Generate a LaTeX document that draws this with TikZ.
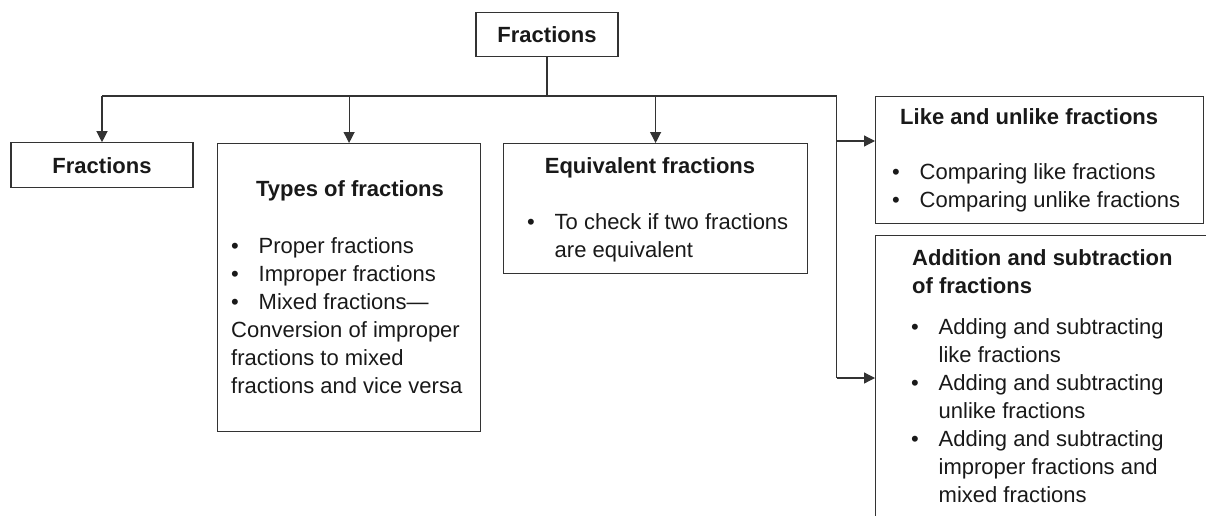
\documentclass[tikz,border=0pt]{standalone}
\usepackage{fontspec}
\setmainfont{Liberation Sans}
\usetikzlibrary{arrows.meta}

\newcommand{\itemDot}{\textbullet\hspace{0.9em}}
\newcommand{\itemHang}{\hphantom{\itemDot}}

\begin{document}
\begin{tikzpicture}[
            x=1pt, y=-1pt,
            font=\fontsize{22}{28}\selectfont,
            boxNode/.style={rectangle, draw=black!80, line width=1.2pt, inner sep=0pt},
            titleNode/.style={font=\fontsize{22}{28}\selectfont\bfseries, text=black!90, inner sep=0pt},
            listNode/.style={align=left, anchor=base west, text=black!90, inner sep=0pt},
            line/.style={draw=black!80, line width=1.2pt},
            arrow/.style={line, -{Triangle[length=11pt, width=11pt]}},
        ]
        \useasboundingbox (0,0) rectangle (1206,516);
        \clip (0,0) rectangle (1206,516);

        \node[boxNode, titleNode, minimum width=142pt, minimum height=44pt] (topFrac) at (547,34.7) {Fractions};
        \node[boxNode, titleNode, minimum width=182pt, minimum height=45pt] (fracBox) at (102,165.3) {Fractions};
        \node[boxNode, anchor=north west, minimum width=263pt, minimum height=288pt] (typesBox) at (217,143) {};
        \node[boxNode, anchor=north west, minimum width=304pt, minimum height=130pt] (equivBox) at (503,143) {};
        \node[boxNode, anchor=north west, minimum width=328pt, minimum height=127pt] (likeBox) at (875,96) {};
        \node[boxNode, anchor=north west, minimum width=400pt, minimum height=320pt] (addBox) at (875,235) {};

        % texts inside the boxes (base = last line)
        \node[titleNode, anchor=base] (typesTitle) at (350,196) {Types of fractions};
        \node[listNode] (typesList) at (231,393) {\itemDot Proper fractions\\ \itemDot Improper fractions\\ \itemDot Mixed fractions—\\ Conversion of improper\\ fractions to mixed\\ fractions and vice versa};
        \node[titleNode, anchor=base] (equivTitle) at (650,173) {Equivalent fractions};
        \node[listNode] (equivList) at (527,257) {\itemDot To check if two fractions\\ \itemHang are equivalent};
        \node[titleNode, anchor=base west] (likeTitle) at (900,124.5) {Like and unlike fractions};
        \node[listNode] (likeList) at (892,207) {\itemDot Comparing like fractions\\ \itemDot Comparing unlike fractions};
        \node[titleNode, listNode] (addTitle) at (912,293) {Addition and subtraction\\of fractions};
        \node[listNode] (addList) at (911,502.5) {\itemDot Adding and subtracting\\ \itemHang like fractions\\ \itemDot Adding and subtracting\\ \itemHang unlike fractions\\ \itemDot Adding and subtracting\\ \itemHang improper fractions and\\ \itemHang mixed fractions};

        \coordinate (hub) at (547,96);
        \coordinate (railTop) at (836.5,96);
        \coordinate (railBot) at (836.5,378);
        \coordinate (likeIn) at (875,141);
        \coordinate (addIn) at (875,378);

        \draw[line] (topFrac.south) -- (hub);
        \draw[line] (fracBox.north |- hub) -- (railTop) -- (railBot);
        \draw[arrow] (fracBox.north |- hub) -- (fracBox.north);
        \draw[arrow] (typesBox.north |- hub) -- (typesBox.north);
        \draw[arrow] (equivBox.north |- hub) -- (equivBox.north);
        \draw[arrow] (railTop |- likeIn) -- (likeIn);
        \draw[arrow] (railBot) -- (addIn);
    \end{tikzpicture}
\end{document}
